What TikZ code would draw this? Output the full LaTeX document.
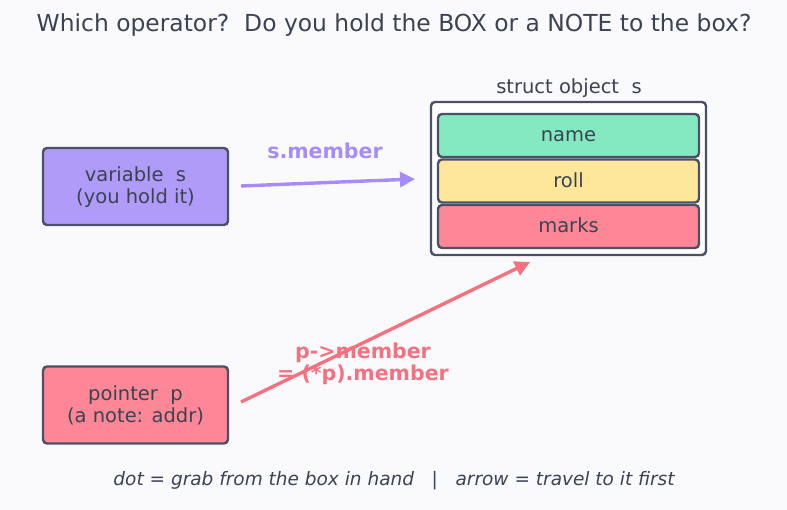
\documentclass[tikz,border=0pt]{standalone}
\usepackage{fontspec}
\setmainfont{DejaVu Sans}
\usetikzlibrary{arrows.meta}
\definecolor{bgc}{HTML}{FAFAFD}
\definecolor{ink}{HTML}{3B4252}
\definecolor{edge}{HTML}{4B5066}
\definecolor{lav}{HTML}{B09CF8}
\definecolor{pinkc}{HTML}{FE8797}
\definecolor{mint}{HTML}{84E9C1}
\definecolor{sand}{HTML}{FEE79A}
\definecolor{purpa}{HTML}{A78BFA}
\definecolor{reda}{HTML}{F4727F}
\tikzset{
  x=1pt, y=-1pt,
  box/.style={draw=edge, line width=2.4pt, rounded corners=4pt, inner sep=0pt, text=ink, font=\fontsize{19.5}{22.5}\selectfont, align=center},
  fld/.style={box, minimum width=261pt, minimum height=43pt, text height=13pt, text depth=0pt},
  side/.style={box, minimum width=185pt, minimum height=77pt},
  txt/.style={text=ink, inner sep=0pt},
  conn/.style={line width=3.4pt, -{Triangle[length=15pt,width=15pt]}},
  lbl/.style={font=\bfseries\fontsize{20.5}{22}\selectfont, align=center, inner sep=0pt}
}
\begin{document}
\begin{tikzpicture}
\fill[bgc] (0,0) rectangle (787,510);
\useasboundingbox (0,0) rectangle (787,510);
\node[txt, font=\fontsize{23.4}{27}\selectfont] (title) at (394,25.5) {Which operator?\ \ Do you hold the BOX or a NOTE to the box?};
\node[side, fill=lav] (var) at (135.5,186.5) {\strut variable\ \ s\\(you hold it)};
\node[side, fill=pinkc] (ptr) at (135.5,405) {\strut pointer\ \ p\\(a note: addr)};
\node[box, fill=white, minimum width=275pt, minimum height=153pt] (obj) at (568.5,178.5) {};
\node[txt, font=\fontsize{19.5}{22}\selectfont] (objlbl) at (569,88) {struct object\ \ s};
\node[fld, fill=mint] (fname) at (568.5,135.5) {name};
\node[fld, fill=sand] (froll) at (568.5,181) {roll};
\node[fld, fill=pinkc] (fmarks) at (568.5,226.5) {marks};
\coordinate (a1s) at (241,186);
\coordinate (a1e) at (415,179);
\coordinate (a2s) at (241,402);
\coordinate (a2e) at (530,262);
\draw[conn, purpa] (a1s) -- (a1e);
\draw[conn, reda] (a2s) -- (a2e);
\node[lbl, text=purpa] (l1) at (325,151) {s.member};
\node[lbl, text=reda] (l2) at (363,364) {p->member\\= (*p).member};
\node[txt, font=\itshape\fontsize{18.5}{22}\selectfont] (foot) at (394,481) {dot = grab from the box in hand\ \ \ |\ \ \ arrow = travel to it first};
\end{tikzpicture}
\end{document}
